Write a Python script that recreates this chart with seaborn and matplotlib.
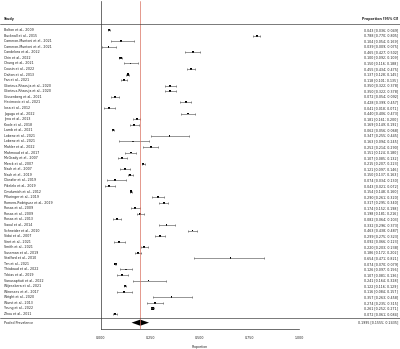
import matplotlib
matplotlib.use("Agg")
import matplotlib.pyplot as plt
import matplotlib.transforms as mtransforms
import seaborn as sns
import pandas as pd
import numpy as np

studies = [
    "Bolton et al., 2009", "Bucknall et al., 2015", "Cameron-Muntoni et al., 2021",
    "Cameron-Muntoni et al., 2021", "Candelora et al., 2022", "Chin et al., 2022",
    "Chung et al., 2021", "Cousin et al., 2022", "Dalton et al., 2013", "Fan et al., 2021",
    "Glorieux-Rhaouja et al., 2020", "Glorieux-Rhaouja et al., 2020", "Gissenberg et al., 2021",
    "Hecimovic et al., 2021", "Iosa et al., 2012", "Jagugu et al., 2022", "Jena et al., 2013",
    "Koole et al., 2018", "Lamb et al., 2021", "Lobenz et al., 2021", "Lobenz et al., 2021",
    "Mahler et al., 2022", "Mahmoud et al., 2017", "McGrady et al., 2007", "Merck et al., 2007",
    "Nash et al., 2007", "Nash et al., 2019", "Okeafor et al., 2019", "Pikelelo et al., 2019",
    "Omdurnich et al., 2012", "Pfluringer et al., 2019", "Romero-Rodriguez et al., 2019",
    "Rosas et al., 2009", "Rosas et al., 2009", "Rosas et al., 2013", "Saoul et al., 2014",
    "Schneider et al., 2010", "Sidai et al., 2007", "Siret et al., 2021", "Smith et al., 2021",
    "Sussman et al., 2019", "Stafford et al., 2010", "Tan et al., 2021", "Thiabaud et al., 2022",
    "Tobias et al., 2019", "Vanusapituti et al., 2022", "Wijesekera et al., 2021",
    "Winesses et al., 2017", "Wright et al., 2020", "Wurst et al., 2013", "Young et al., 2022",
    "Zhou et al., 2011",
]
est = [0.043, 0.788, 0.104, 0.039, 0.465, 0.100, 0.150, 0.455, 0.137, 0.118,
       0.350, 0.350, 0.072, 0.428, 0.041, 0.440, 0.181, 0.169, 0.062, 0.347,
       0.163, 0.252, 0.151, 0.107, 0.215, 0.121, 0.150, 0.074, 0.043, 0.154,
       0.290, 0.317, 0.174, 0.198, 0.082, 0.332, 0.463, 0.299, 0.092, 0.220,
       0.186, 0.654, 0.074, 0.126, 0.107, 0.241, 0.122, 0.116, 0.357, 0.274,
       0.261, 0.072]
lo = [0.036, 0.770, 0.054, 0.009, 0.427, 0.092, 0.116, 0.434, 0.128, 0.101,
      0.322, 0.322, 0.054, 0.399, 0.018, 0.406, 0.161, 0.149, 0.056, 0.255,
      0.094, 0.214, 0.124, 0.085, 0.207, 0.097, 0.137, 0.034, 0.021, 0.148,
      0.261, 0.295, 0.152, 0.181, 0.064, 0.296, 0.438, 0.275, 0.066, 0.203,
      0.172, 0.471, 0.070, 0.097, 0.081, 0.164, 0.116, 0.084, 0.263, 0.235,
      0.252, 0.061]
hi = [0.049, 0.805, 0.169, 0.075, 0.502, 0.109, 0.188, 0.475, 0.145, 0.135,
      0.378, 0.378, 0.092, 0.457, 0.071, 0.473, 0.200, 0.191, 0.068, 0.445,
      0.245, 0.290, 0.180, 0.132, 0.223, 0.146, 0.163, 0.130, 0.072, 0.160,
      0.320, 0.340, 0.198, 0.216, 0.103, 0.373, 0.487, 0.323, 0.123, 0.238,
      0.202, 0.821, 0.079, 0.156, 0.136, 0.328, 0.129, 0.157, 0.458, 0.315,
      0.271, 0.084]
pooled_label = "Pooled Prevalence"
pooled = [0.1995, 0.1555, 0.2435]
xticks = [0.0, 0.25, 0.5, 0.75, 1.0]

df = pd.DataFrame({"study": studies, "est": est, "lo": lo, "hi": hi})
df["row"] = np.arange(len(df))
df["weight"] = 1.0 / (df["hi"] - df["lo"])

sns.set_theme(style="white")
plt.rcParams["font.family"] = ["DejaVu Sans"]

W, H = 400, 349
fig = plt.figure(figsize=(W / 100, H / 100), dpi=100)
ax = fig.add_axes([100.7 / W, 1 - 329.3 / H, 198.4 / W, 328.3 / H])

fs = 2.3
txtc = "#222222"
linec = "#444444"

ax.errorbar(df["est"], df["row"], xerr=[df["est"] - df["lo"], df["hi"] - df["est"]],
            fmt="none", ecolor=linec, elinewidth=0.4, capsize=1.0, capthick=0.4)
sns.scatterplot(data=df, x="est", y="row", size="weight", sizes=(1.5, 3.5), marker="s",
                color="black", linewidth=0, legend=False, ax=ax)

pool_y = 52.55
h = 0.55
ax.fill([pooled[1], pooled[0], pooled[2], pooled[0]],
        [pool_y, pool_y - h, pool_y, pool_y + h], color="black", lw=0)
ax.axvline(pooled[0], color="#d9705f", lw=0.5)

ax.set_xlim(0, 1)
ax.set_ylim(53.74, -5.21)
ax.set_yticks([])
ax.set_ylabel("")
ax.set_xticks(xticks)
ax.xaxis.set_major_formatter("{x:.3f}")
ax.tick_params(axis="x", length=1.5, width=0.4, labelsize=fs, pad=3.5, colors=txtc)
ax.set_xlabel("Proportion", fontsize=fs, labelpad=3.4, color=txtc)
for s in ["top", "right"]:
    ax.spines[s].set_visible(False)
for s in ["left", "bottom"]:
    ax.spines[s].set_linewidth(0.5)
    ax.spines[s].set_color("#333333")

trans = mtransforms.blended_transform_factory(fig.transFigure, ax.transData)
xl, xr = 4 / W, 398 / W
ax.text(xl, -2, "Study", transform=trans, ha="left", va="center", fontsize=fs,
        fontweight="bold", color=txtc, clip_on=False)
ax.text(xr, -2, "Proportion [95% CI]", transform=trans, ha="right", va="center",
        fontsize=fs, fontweight="bold", color=txtc, clip_on=False)
for r in df.itertuples():
    ax.text(xl, r.row, r.study, transform=trans, ha="left", va="center", fontsize=fs,
            color=txtc, clip_on=False)
    ax.text(xr, r.row, f"{r.est:.3f} [{r.lo:.3f}; {r.hi:.3f}]", transform=trans,
            ha="right", va="center", fontsize=fs, color=txtc, clip_on=False)
ax.text(xl, pool_y, pooled_label, transform=trans, ha="left", va="center", fontsize=fs,
        color=txtc, clip_on=False)
ax.text(xr, pool_y, f"{pooled[0]:.4f} [{pooled[1]:.4f}; {pooled[2]:.4f}]", transform=trans,
        ha="right", va="center", fontsize=fs, color=txtc, clip_on=False)

for yy in [-1.02, 51.8]:
    ax.plot([0, 1], [yy, yy], transform=trans, color=linec, lw=0.5, clip_on=False)

fig.savefig("out.png", dpi=100)
